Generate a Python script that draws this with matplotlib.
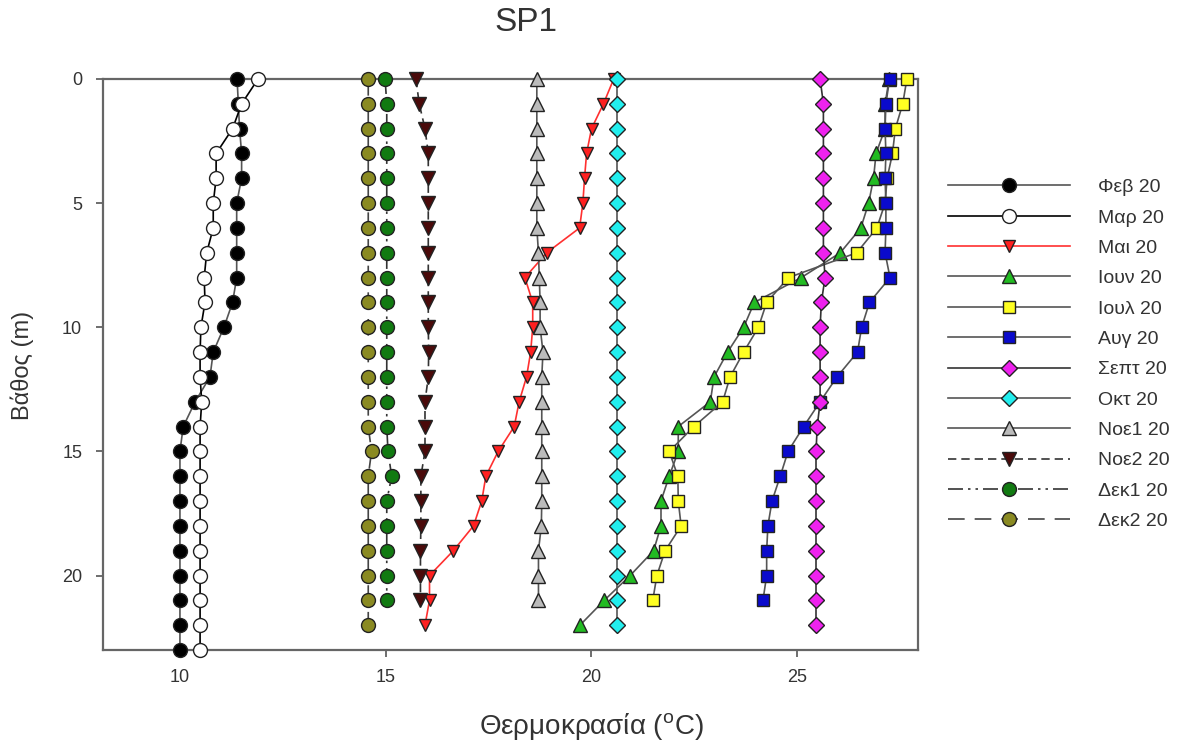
import matplotlib
matplotlib.use("Agg")
import matplotlib.pyplot as plt

plt.rcParams['font.family'] = ['Liberation Sans', 'DejaVu Sans']

# depths (m)
depth = list(range(0, 24))

# temperatures (oC) per sampling
feb20 = [11.39, 11.42, 11.45, 11.5, 11.5, 11.38, 11.38, 11.38, 11.38, 11.28, 11.07, 10.81,
         10.73, 10.37, 10.08, 10.0, 10.0, 10.0, 10.0, 10.0, 10.0, 10.0, 10.0, 10.0]
mar20 = [11.9, 11.5, 11.28, 10.88, 10.88, 10.81, 10.81, 10.65, 10.59, 10.61, 10.51, 10.49,
         10.49, 10.53, 10.49, 10.49, 10.49, 10.49, 10.49, 10.49, 10.49, 10.49, 10.49, 10.49]
mai20 = [20.55, 20.3, 20.01, 19.89, 19.84, 19.8, 19.72, 18.92, 18.39, 18.58, 18.58, 18.53,
         18.43, 18.25, 18.13, 17.74, 17.44, 17.34, 17.14, 16.65, 16.07, 16.07, 15.96]
iouv20 = [27.25, 27.15, 27.15, 26.93, 26.87, 26.75, 26.56, 26.06, 25.11, 23.97, 23.71, 23.32,
          22.99, 22.9, 22.12, 22.12, 21.9, 21.7, 21.7, 21.52, 20.95, 20.32, 19.73]
ioul20 = [27.68, 27.58, 27.4, 27.33, 27.2, 27.15, 26.95, 26.46, 24.8, 24.27, 24.07, 23.71,
          23.38, 23.2, 22.5, 21.9, 22.11, 22.12, 22.19, 21.8, 21.6, 21.5]
avg20 = [27.26, 27.17, 27.15, 27.17, 27.15, 27.17, 27.17, 27.15, 27.27, 26.77, 26.58, 26.48,
         25.98, 25.57, 25.17, 24.79, 24.6, 24.4, 24.3, 24.27, 24.27, 24.18]
sept20 = [25.57, 25.65, 25.65, 25.65, 25.65, 25.65, 25.65, 25.65, 25.69, 25.6, 25.57, 25.57,
          25.57, 25.57, 25.5, 25.47, 25.47, 25.47, 25.47, 25.47, 25.47, 25.47, 25.47]
okt20 = [20.62] * 23
noe1_20 = [18.68, 18.68, 18.68, 18.68, 18.68, 18.68, 18.68, 18.72, 18.74, 18.76, 18.76, 18.83,
           18.8, 18.8, 18.8, 18.8, 18.8, 18.8, 18.79, 18.72, 18.72, 18.72]
noe2_20 = [15.74, 15.82, 15.96, 16.04, 16.04, 16.04, 16.04, 16.04, 16.04, 16.04, 16.04, 16.05,
           16.04, 15.96, 15.96, 15.96, 15.86, 15.86, 15.86, 15.85, 15.85, 15.85]
dek1_20 = [14.99, 15.03, 15.03, 15.03, 15.03, 15.03, 15.03, 15.03, 15.03, 15.03, 15.03, 15.03,
           15.03, 15.03, 15.03, 15.06, 15.15, 15.03, 15.03, 15.03, 15.03, 15.03]
dek2_20 = [14.58, 14.58, 14.58, 14.58, 14.58, 14.58, 14.58, 14.58, 14.58, 14.58, 14.58, 14.58,
           14.58, 14.58, 14.58, 14.66, 14.58, 14.58, 14.58, 14.58, 14.58, 14.58, 14.58]

labels = ['Φεβ 20', 'Μαρ 20', 'Μαι 20', 'Ιουν 20', 'Ιουλ 20', 'Αυγ 20', 'Σεπτ 20',
          'Οκτ 20', 'Νοε1 20', 'Νοε2 20', 'Δεκ1 20', 'Δεκ2 20']
series = [feb20, mar20, mai20, iouv20, ioul20, avg20, sept20, okt20, noe1_20, noe2_20,
          dek1_20, dek2_20]

# style per series: marker, face colour, line colour, linestyle, markersize
styles = [
    ('o', 'black',   '#555555', '-', 10),
    ('o', 'white',   'black',   '-', 10),
    ('v', '#ff2020', '#ff3030', '-', 9),
    ('^', '#22bb22', '#555555', '-', 9.5),
    ('s', '#ffff22', '#555555', '-', 9),
    ('s', '#0a0acc', '#555555', '-', 9),
    ('D', '#ee22ee', '#333333', '-', 8.5),
    ('D', '#22eeee', '#555555', '-', 8.5),
    ('^', '#bbbbbb', '#555555', '-', 9.5),
    ('v', '#4a0a0a', '#333333', (0, (5, 3)), 9.5),
    ('o', '#117a11', '#333333', (0, (9, 3, 1.5, 3, 1.5, 3)), 10),
    ('o', '#8a8a22', '#444444', (0, (10, 6)), 10),
]

fig = plt.figure(figsize=(11.9, 7.53), dpi=100)
ax = fig.add_axes([0.0866, 0.1368, 0.6848, 0.7583])

for name, temps, (mk, fc, lc, ls, ms) in zip(labels, series, styles):
    ax.plot(temps, depth[:len(temps)], color=lc, linestyle=ls, linewidth=1.2,
            marker=mk, markersize=ms, markerfacecolor=fc, markeredgecolor='#222222',
            markeredgewidth=1.0, label=name, clip_on=False, zorder=3)

ax.set_xlim(8.13, 27.95)
ax.set_ylim(23, 0)
ax.set_xticks([10, 15, 20, 25])
ax.set_yticks([0, 5, 10, 15, 20])
ax.tick_params(direction='out', length=5, width=1.2, color='#555555',
               labelsize=13, labelcolor='#333333')
ax.tick_params(axis='y', pad=10)
ax.tick_params(axis='x', pad=9)
for sp in ax.spines.values():
    sp.set_color('#666666')
    sp.set_linewidth(1.6)

fig.text(0.442, 0.970, 'SP1', fontsize=24, color='#333333', ha='center', va='center')
fig.text(0.497, 0.034, 'Θερμοκρασία ($^{\\mathregular{o}}$C)', fontsize=20,
         color='#333333', ha='center', va='center')
fig.text(0.019, 0.515, 'Βάθος (m)', fontsize=17, color='#333333', rotation=90,
         ha='center', va='center')

ax.legend(loc='upper left', bbox_to_anchor=(0.7816, 0.786), bbox_transform=fig.transFigure,
          frameon=False, fontsize=14, handlelength=6.3, handletextpad=1.45,
          labelspacing=0.655, labelcolor='#333333')

fig.savefig('out.png', dpi=100)
